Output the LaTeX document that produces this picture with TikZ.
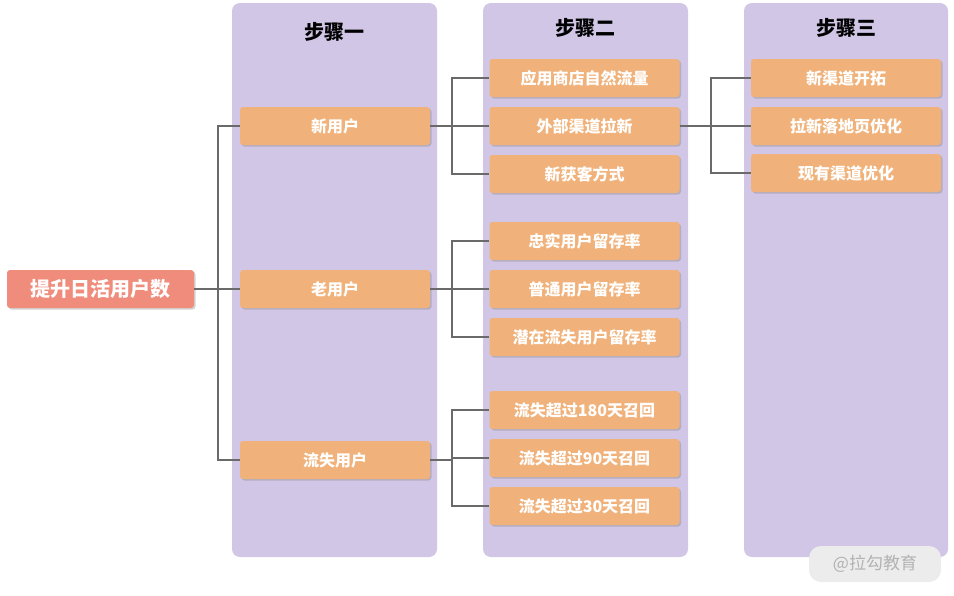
\documentclass[tikz,border=0pt]{standalone}
\usepackage{fontspec}
\setmainfont{Noto Sans CJK SC}
\usetikzlibrary{shadows}
\definecolor{panelbg}{HTML}{D1C6E6}
\definecolor{boxfill}{HTML}{F0B27A}
\definecolor{rootfill}{HTML}{F08C7C}
\definecolor{linegray}{HTML}{6A6A6A}
\tikzset{
  panel/.style={fill=panelbg, rounded corners=8pt, draw=none},
  stepbox/.style={fill=boxfill, text=white, font=\bfseries\fontsize{16}{19}\selectfont, minimum width=190pt, minimum height=38pt, rounded corners=3pt, inner sep=0pt, drop shadow={shadow xshift=1.5pt, shadow yshift=-1.5pt, opacity=.35}},
  link/.style={linegray, line width=2.4pt}
}
\begin{document}
\begin{tikzpicture}[x=1pt,y=-1pt]
    \useasboundingbox (0,0) rectangle (954,595);

    \fill[panel] (232,3) rectangle (437,557);
    \fill[panel] (483,3) rectangle (688,557);
    \fill[panel] (744,3) rectangle (948,557);
    \node (h1) at (334.5,32) {\bfseries\fontsize{20}{24}\selectfont 步骤一};
    \node (h2) at (585.5,28) {\bfseries\fontsize{20}{24}\selectfont 步骤二};
    \node (h3) at (846,28) {\bfseries\fontsize{20}{24}\selectfont 步骤三};

    \node (root) at (100.5,289) [stepbox, fill=rootfill, minimum width=187pt, font=\bfseries\fontsize{20}{24}\selectfont] {提升日活用户数};

    \node (new) at (335,126) [stepbox] {新用户};
    \node (old) at (335,289) [stepbox] {老用户};
    \node (lost) at (335,460) [stepbox] {流失用户};

    \node (n1) at (584.5,78) [stepbox] {应用商店自然流量};
    \node (n2) at (584.5,126) [stepbox] {外部渠道拉新};
    \node (n3) at (584.5,174) [stepbox] {新获客方式};
    \node (o1) at (584.5,241) [stepbox] {忠实用户留存率};
    \node (o2) at (584.5,289) [stepbox] {普通用户留存率};
    \node (o3) at (584.5,337) [stepbox] {潜在流失用户留存率};
    \node (l1) at (584.5,410) [stepbox] {流失超过180天召回};
    \node (l2) at (584.5,458) [stepbox] {流失超过90天召回};
    \node (l3) at (584.5,506) [stepbox] {流失超过30天召回};

    \node (c1) at (846,78) [stepbox] {新渠道开拓};
    \node (c2) at (846,126) [stepbox] {拉新落地页优化};
    \node (c3) at (846,173) [stepbox] {现有渠道优化};

    \foreach \t in {new,old,lost}
      \draw[link] (root.east) -- ++(24,0) |- (\t.west);
    \foreach \t in {n1,n2,n3}
      \draw[link] (new.east) -- ++(22,0) |- (\t.west);
    \foreach \t in {o1,o2,o3}
      \draw[link] (old.east) -- ++(22,0) |- (\t.west);
    \foreach \t in {l1,l2,l3}
      \draw[link] (lost.east) -- ++(22,0) |- (\t.west);
    \foreach \t in {c1,c2,c3}
      \draw[link] (n2.east) -- ++(31,0) |- (\t.west);

    % watermark
    \node (mark) at (875,564) [fill=gray!15, rounded corners=12pt, text=gray!60, minimum width=132pt, minimum height=36pt, font=\fontsize{17}{20}\selectfont] {@拉勾教育};
\end{tikzpicture}
\end{document}
